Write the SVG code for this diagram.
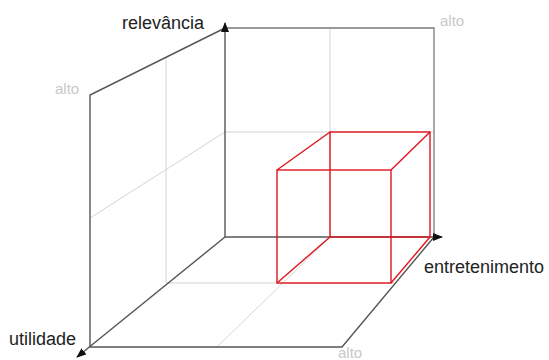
<svg xmlns="http://www.w3.org/2000/svg" width="549" height="360" viewBox="0 0 549 360">
<style>
.grid{stroke:#d4d4d4;stroke-width:1;fill:none}
.edge{stroke:#7a7a7a;stroke-width:1.3;fill:none}
.axis{stroke:#555;stroke-width:1.4;fill:none}
.cube{stroke:#e0141e;stroke-width:1.4;fill:none}
.lbl{font-family:"Liberation Sans",Arial,sans-serif;font-size:18px;fill:#222}
.alto{font-family:"Liberation Sans",Arial,sans-serif;font-size:15px;fill:#c8c8c8}
</style>
<defs>
<marker id="ah" markerWidth="10" markerHeight="8" refX="9" refY="4" orient="auto" markerUnits="userSpaceOnUse">
<path d="M0,0 L10,4 L0,8 Z" fill="#111"/>
</marker>
</defs>
<rect width="549" height="360" fill="#fff"/>
<g id="grid">
<line class="grid" x1="330" y1="28" x2="330" y2="237"/>
<line class="grid" x1="225" y1="132" x2="433" y2="132"/>
<line class="grid" x1="225" y1="132" x2="90" y2="218"/>
<line class="grid" x1="166" y1="58" x2="166" y2="283"/>
<line class="grid" x1="166" y1="283" x2="394" y2="283"/>
<line class="grid" x1="330" y1="237" x2="217" y2="347"/>
</g>
<g id="walls">
<polyline class="edge" points="225,28 434,28 434,237"/>
<polyline class="axis" points="225,28 90,95 90,347 342,347 434,237"/>
</g>
<g id="connectors">
<line class="axis" x1="225" y1="237" x2="225" y2="23" marker-end="url(#ah)"/>
<line class="axis" x1="225" y1="237" x2="442" y2="237" marker-end="url(#ah)"/>
<line class="axis" x1="225" y1="237" x2="77" y2="357" marker-end="url(#ah)"/>
</g>
<g id="cube">
<rect class="cube" x="330" y="132" width="100" height="105"/>
<rect class="cube" x="277" y="170" width="114" height="113"/>
<line class="cube" x1="330" y1="132" x2="277" y2="170"/>
<line class="cube" x1="430" y1="132" x2="391" y2="170"/>
<line class="cube" x1="330" y1="237" x2="277" y2="283"/>
<line class="cube" x1="430" y1="237" x2="391" y2="283"/>
</g>
<g id="labels">
<text class="lbl" x="204" y="29" text-anchor="end">relevância</text>
<text class="lbl" x="9" y="345">utilidade</text>
<text class="lbl" x="424" y="273">entretenimento</text>
<text class="alto" x="55" y="94">alto</text>
<text class="alto" x="440" y="26">alto</text>
<text class="alto" x="338" y="358">alto</text>
</g>
</svg>
